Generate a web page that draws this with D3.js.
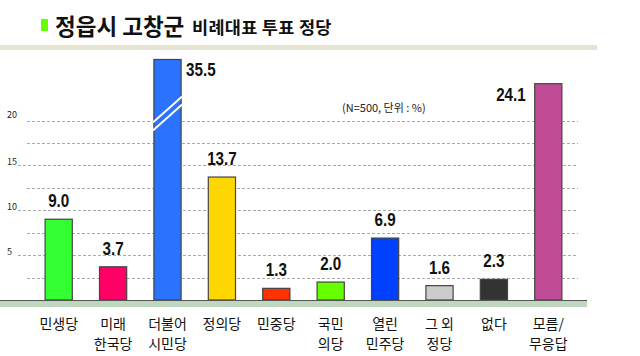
<!DOCTYPE html>
<html><head><meta charset="utf-8">
<script src="https://cdn.jsdelivr.net/npm/d3@7"></script>
<style>body{margin:0;background:#fff}svg{display:block}</style>
</head><body>
<script>
const categories = [["민생당"],["미래","한국당"],["더불어","시민당"],["정의당"],["민중당"],["국민","의당"],["열린","민주당"],["그 외","정당"],["없다"],["모름/","무응답"]];
const values = [9.0, 3.7, 35.5, 13.7, 1.3, 2.0, 6.9, 1.6, 2.3, 24.1];
const colors = ["#33ff33","#ff0066","#2a72ff","#ffd700","#ff3300","#66ff00","#0040ff","#cccccc","#333333","#c04c96"];
const yTicks = [5, 10, 15, 20];
const gridValues = [2.5, 5, 7.5, 10, 12.5, 15, 17.5, 20];
const capValue = 26.8; // broken-axis display cap
const titleMain = "정읍시 고창군";
const titleSub = "비례대표 투표 정당";
const note = "(N=500, 단위 : %)";

const W = 640, H = 356;
const svg = d3.select("body").append("svg").attr("width", W).attr("height", H);
const font = "'Noto Sans CJK KR', 'Noto Sans', sans-serif";

// title
svg.append("rect").attr("x", 41).attr("y", 19).attr("width", 7).attr("height", 12).attr("fill", "#66ff00");
svg.append("text").attr("x", 55).attr("y", 35).attr("font-family", font).attr("font-weight", 700)
  .attr("font-size", 22.5).attr("fill", "#111").text(titleMain);
svg.append("text").attr("x", 192).attr("y", 34).attr("font-family", font).attr("font-weight", 700)
  .attr("font-size", 17.5).attr("letter-spacing", 0.3).attr("fill", "#111").text(titleSub);
svg.append("rect").attr("x", 0).attr("y", 45).attr("width", 597).attr("height", 5).attr("fill", "#e4e4d0");

const x = d3.scaleBand().domain(d3.range(values.length)).range([31.5, 575.5]).paddingInner(0.5).paddingOuter(0.25);
const y = d3.scaleLinear().domain([0, 20]).range([300, 120.5]);

// gridlines
svg.append("g").selectAll("line").data(gridValues).join("line")
  .attr("x1", d => yTicks.includes(d) && d !== 20 ? 18 : 27).attr("x2", 578)
  .attr("y1", d => Math.round(y(d)) + 0.5).attr("y2", d => Math.round(y(d)) + 0.5)
  .attr("stroke", "#aaa").attr("stroke-width", 1).attr("stroke-dasharray", "3,2");

svg.append("g").selectAll("text").data(yTicks).join("text")
  .attr("x", 7).attr("y", d => y(d) - (d === 20 ? 3 : 0))
  .attr("font-family", font).attr("font-size", 9).attr("fill", "#222").text(d => d);

// bars
svg.append("g").selectAll("rect").data(values).join("rect")
  .attr("x", (d, i) => x(i)).attr("width", x.bandwidth())
  .attr("y", d => y(Math.min(d, capValue))).attr("height", d => 300 - y(Math.min(d, capValue)))
  .attr("fill", (d, i) => colors[i]).attr("stroke", "#444").attr("stroke-width", 1.2);

// break marks
values.forEach((v, i) => {
  if (v > capValue) {
    const x0 = x(i), x1 = x(i) + x.bandwidth();
    [0, 8].forEach(off => {
      svg.append("line").attr("x1", x0 - 1).attr("x2", x1 + 1)
        .attr("y1", y(20) + off + 2).attr("y2", y(20) + off - 24)
        .attr("stroke", "#fff").attr("stroke-width", 2);
    });
  }
});

// baseline band
svg.append("rect").attr("x", 0).attr("y", 300).attr("width", 587).attr("height", 7).attr("fill", "#bfd6bf");
svg.append("line").attr("x1", 0).attr("x2", 587).attr("y1", 300.5).attr("y2", 300.5).attr("stroke", "#555").attr("stroke-width", 1);

// value labels (condensed)
svg.append("g").selectAll("text").data(values).join("text")
  .attr("transform", (d, i) => {
    const tx = d > capValue ? x(i) + x.bandwidth() + 5 : (d > 20 ? x(i) - 9 : x(i) + x.bandwidth() / 2);
    const ty = d > capValue ? y(capValue) + 17 : (d > 20 ? y(d) + 17 : y(d) - 12);
    return `translate(${tx},${ty}) scale(0.8,1)`;
  })
  .attr("text-anchor", d => d > capValue ? "start" : (d > 20 ? "end" : "middle"))
  .attr("font-family", "'Liberation Sans', Arial, sans-serif").attr("font-weight", 700)
  .attr("font-size", 19).attr("fill", "#111").text(d => d.toFixed(1));

// note
svg.append("text").attr("x", 342).attr("y", 112).attr("font-family", font)
  .attr("font-size", 11).attr("fill", "#222").text(note);

// category labels
const cat = svg.append("g").selectAll("text").data(categories).join("text")
  .attr("font-family", font).attr("font-size", 14).attr("fill", "#111").attr("text-anchor", "middle");
cat.each(function(lines, i) {
  const t = d3.select(this);
  lines.forEach((l, j) => t.append("tspan").attr("x", x(i) + x.bandwidth() / 2).attr("y", 329 + j * 20).text(l));
});
</script>
</body></html>
